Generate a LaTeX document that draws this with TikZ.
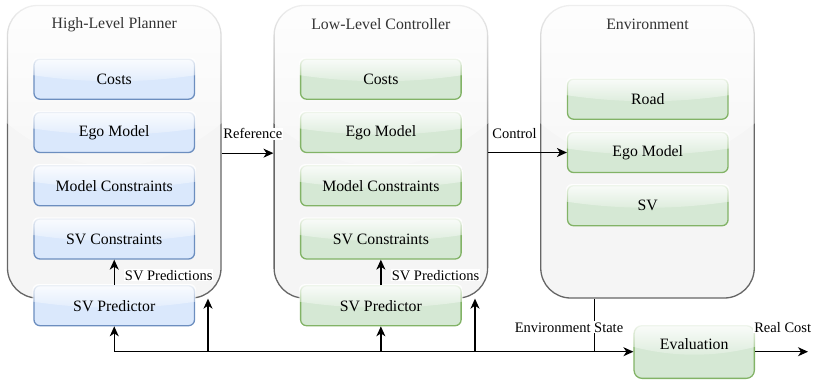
\documentclass[tikz,border=0pt]{standalone}
\usepackage{fontspec}
\setmainfont{Liberation Serif}
\usetikzlibrary{arrows.meta,fadings,calc}

\definecolor{bluefill}{HTML}{DAE8FC}
\definecolor{bluedraw}{HTML}{6C8EBF}
\definecolor{greenfill}{HTML}{D5E8D4}
\definecolor{greendraw}{HTML}{82B366}
\definecolor{panelfill}{HTML}{F5F5F5}
\definecolor{paneldraw}{HTML}{666666}
\definecolor{titlegray}{HTML}{333333}

\newcommand\boxfont{\fontsize{15.8bp}{18bp}\selectfont}
\newcommand\lblfont{\fontsize{14.5bp}{16bp}\selectfont}

% white sheen over the upper part of a rounded shape
\tikzfading[name=glassfade, top color=transparent!10, bottom color=transparent!83]
\newcommand\glassfx[2]{%
  \begin{scope}
    \clip[rounded corners=#2] ([xshift=-1bp,yshift=1bp]#1.north west) rectangle ([xshift=1bp,yshift=-1bp]#1.south east);
    \fill[white, path fading=glassfade] let \p1=(#1.north west), \p2=(#1.south east) in
      (\x1-1bp,\y1+1bp) -- (\x2+1bp,\y1+1bp) -- (\x2+1bp,{\y1-0.4*(\y1-\y2)})
      .. controls ({\x2-(\x2-\x1)/3},{\y1-0.6*(\y1-\y2)}) and ({\x1+(\x2-\x1)/3},{\y1-0.6*(\y1-\y2)}) ..
      (\x1-1bp,{\y1-0.4*(\y1-\y2)}) -- cycle;
  \end{scope}}

% a block: shape, sheen, then its caption on top
\newcommand\blk[4]{%
  \node[#1] (#2) at #3 {};
  \glassfx{#2}{6bp}
  \node[font=\boxfont, inner sep=0pt] (#2-text) at (#2.center) {#4};}

\begin{document}
\begin{tikzpicture}[x=1bp,y=-1bp,
  panel/.style={draw=paneldraw, fill=panelfill, line width=1.3bp, rounded corners=30bp,
    minimum width=213.5bp, minimum height=292.5bp, inner sep=0pt},
  block/.style={line width=1.3bp, rounded corners=6bp, minimum width=160.5bp,
    minimum height=40bp, inner sep=0pt},
  bluebox/.style={block, draw=bluedraw, fill=bluefill},
  greenbox/.style={block, draw=greendraw, fill=greenfill},
  title/.style={font=\boxfont, text=titlegray, inner sep=0pt},
  lbl/.style={font=\lblfont, fill=white, inner sep=1bp},
  flow/.style={line width=1.3bp, -{Stealth[length=10bp,width=9bp,inset=3bp]}},
  wire/.style={line width=1.3bp}]

\useasboundingbox (0,0) rectangle (813,380);

% panels
\node[panel] (hlp) at (114.25,151.75) {};
\glassfx{hlp}{30bp}
\node[panel] (llc) at (380.85,151.75) {};
\glassfx{llc}{30bp}
\node[panel] (env) at (647.5,151.75) {};
\glassfx{env}{30bp}

\node[title] (hlptitle) at (114.25,24.3) {High-Level Planner};
\node[title] (llctitle) at (380.85,24.3) {Low-Level Controller};
\node[title] (envtitle) at (647.5,24.3) {Environment};

% high-level planner blocks
\blk{bluebox}{hcost}{(114.25,79.2)}{Costs}
\blk{bluebox}{hego}{(114.25,132.5)}{Ego Model}
\blk{bluebox}{hmc}{(114.25,185.8)}{Model Constraints}
\blk{bluebox}{hsvc}{(114.25,239.0)}{SV Constraints}
\blk{bluebox}{hsvp}{(114.25,305.7)}{SV Predictor}

% low-level controller blocks
\blk{greenbox}{lcost}{(380.85,79.2)}{Costs}
\blk{greenbox}{lego}{(380.85,132.5)}{Ego Model}
\blk{greenbox}{lmc}{(380.85,185.8)}{Model Constraints}
\blk{greenbox}{lsvc}{(380.85,239.0)}{SV Constraints}
\blk{greenbox}{lsvp}{(380.85,305.7)}{SV Predictor}

% environment blocks
\blk{greenbox}{eroad}{(647.8,99.2)}{Road}
\blk{greenbox}{eego}{(647.8,152.5)}{Ego Model}
\blk{greenbox}{esv}{(647.8,205.7)}{SV}

% evaluation
\node[greenbox, minimum width=120.3bp, minimum height=52.7bp, rounded corners=8bp]
  (eval) at (694.2,352) {};
\glassfx{eval}{8bp}
\node[font=\boxfont, inner sep=0pt] (evaltext) at (694.2,344.3) {Evaluation};

% predictions into constraints
\draw[flow] (hsvp) -- (hsvc);
\node[lbl] (hpredlbl) at (168.7,275.3) {SV Predictions};
\draw[flow] (lsvp) -- (lsvc);
\node[lbl] (lpredlbl) at (435.5,275.3) {SV Predictions};

% reference and control
\draw[flow] (hlp.east |- hego.south) -- (llc.west |- hego.south);
\node[lbl] (reflbl) at (252.8,133.8) {Reference};
\draw[flow] (llc.east |- eego.west) -- (eego.west);
\node[lbl] (ctrllbl) at (514.5,133.8) {Control};

% environment state bus
\coordinate (esrc) at (594.3,298);
\coordinate (bus)  at (594.3,351.7);
\coordinate (tap1) at (208,351.7);
\coordinate (tap2) at (475,351.7);
\draw[wire] (env.south -| esrc) -- (bus);
\draw[flow] (bus) -- (eval.west |- bus);
\draw[flow] (bus) -| (hsvp.south);
\draw[flow] (tap1) -- (hlp.south -| tap1);
\draw[flow] (lsvp.south |- bus) -- (lsvp.south);
\draw[flow] (tap2) -- (llc.south -| tap2);
\node[lbl] (eslbl) at (569,327.3) {Environment State};

% real cost output
\coordinate (rcout) at (808,351.7);
\draw[flow] (eval.east |- rcout) -- (rcout);
\node[lbl] (rclbl) at (782.7,327.3) {Real Cost};

\end{tikzpicture}
\end{document}
